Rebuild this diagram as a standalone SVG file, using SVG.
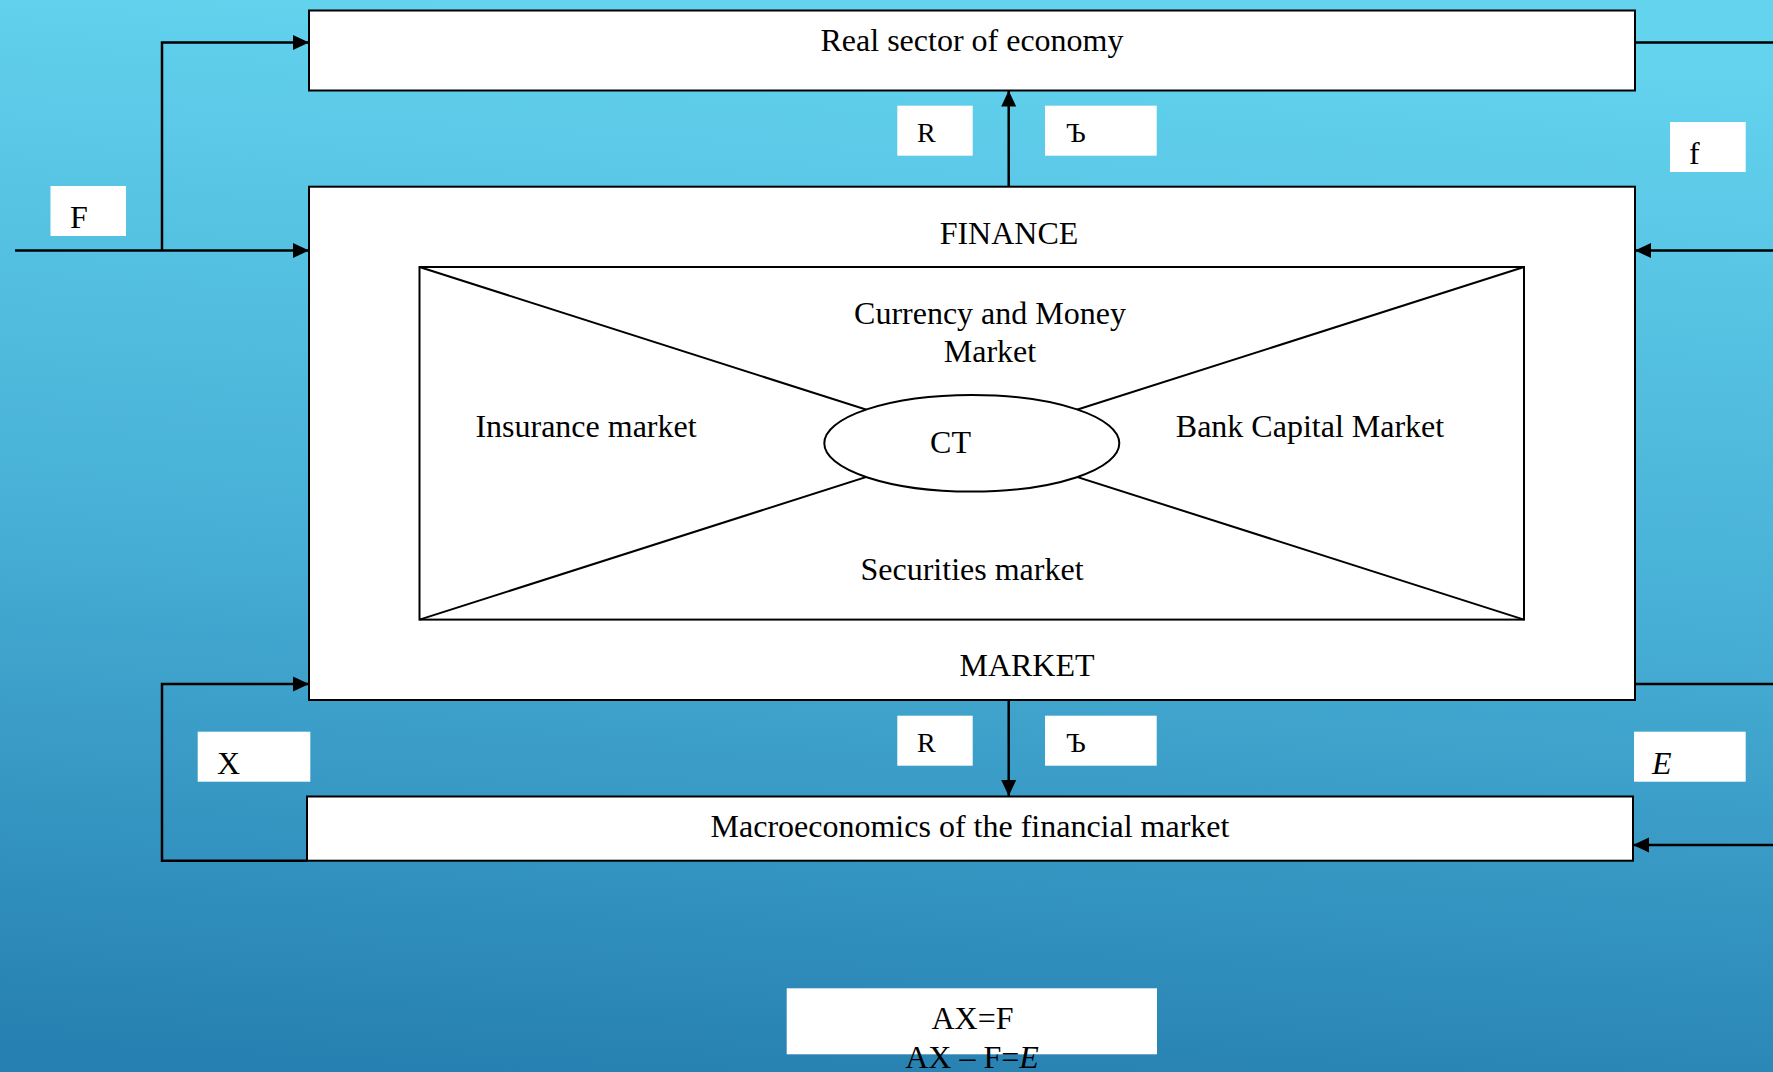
<svg xmlns="http://www.w3.org/2000/svg" width="1773" height="1072" viewBox="0 0 1773 1072">
<defs>
<linearGradient id="bg" x1="0.35" y1="0" x2="0.25" y2="1">
<stop offset="0" stop-color="#63d3ee"/>
<stop offset="0.5" stop-color="#48b0d6"/>
<stop offset="1" stop-color="#2680b1"/>
</linearGradient>
<marker id="arr" markerUnits="userSpaceOnUse" markerWidth="16" markerHeight="16" viewBox="0 0 16 16" refX="16" refY="8" orient="auto">
<path d="M0,0.5 L16,8 L0,15.5 Z" fill="#000"/>
</marker>
<style>
.box{fill:#fff;stroke:#000;stroke-width:2}
.lbl{fill:#fff;stroke:none}
.t{font-family:"Liberation Serif","Times New Roman",serif;font-size:32px;fill:#000}
.s{font-family:"Liberation Serif","Times New Roman",serif;font-size:28px;fill:#000}
.c{text-anchor:middle}
.con{fill:none;stroke:#000;stroke-width:2.5}
.thin{fill:none;stroke:#000;stroke-width:2}
</style>
</defs>
<rect x="0" y="0" width="1773" height="1072" fill="url(#bg)"/>

<g id="connectors">
<path class="con" d="M15,250.5 H309" marker-end="url(#arr)"/>
<path class="con" d="M162,250.5 V42.5 H309" marker-end="url(#arr)"/>
<path class="con" d="M1635,42.5 H1773"/>
<path class="con" d="M1773,250.5 H1635" marker-end="url(#arr)"/>
<path class="con" d="M1008.7,186.7 V90.5" marker-end="url(#arr)"/>
<path class="con" d="M1008.7,700 V796" marker-end="url(#arr)"/>
<path class="con" d="M307,860.7 H162 V684 H309" marker-end="url(#arr)"/>
<path class="con" d="M1635,684 H1773"/>
<path class="con" d="M1773,845 H1633" marker-end="url(#arr)"/>
</g>

<g id="real-sector">
<rect class="box" x="309" y="10.5" width="1326" height="80"/>
<text class="t c" x="972" y="51">Real sector of economy</text>
</g>

<g id="finance-market">
<rect class="box" x="309" y="186.7" width="1326" height="513.3"/>
<text class="t c" x="1009" y="244">FINANCE</text>
<text class="t c" x="1027" y="676">MARKET</text>
</g>

<g id="inner-markets">
<rect class="box" x="419.5" y="267" width="1104.5" height="352.6"/>
<line class="thin" x1="419.5" y1="267" x2="1524" y2="619.6"/>
<line class="thin" x1="1524" y1="267" x2="419.5" y2="619.6"/>
<text class="t c" x="990" y="324">Currency and Money</text>
<text class="t c" x="990" y="362">Market</text>
<text class="t c" x="586" y="436.5">Insurance market</text>
<text class="t c" x="1310" y="436.5">Bank Capital Market</text>
<text class="t c" x="972" y="580">Securities market</text>
</g>

<g id="ct">
<ellipse cx="971.8" cy="443.3" rx="147.5" ry="48.3" fill="#fff" stroke="#000" stroke-width="2"/>
<text class="t c" x="950.5" y="452.5">CT</text>
</g>

<g id="macro">
<rect class="box" x="307" y="796.5" width="1326" height="64.2"/>
<text class="t c" x="970" y="837">Macroeconomics of the financial market</text>
</g>

<g id="label-F">
<rect class="lbl" x="50.5" y="186" width="75.5" height="50"/>
<text class="t" x="70" y="228">F</text>
</g>
<g id="label-f">
<rect class="lbl" x="1670" y="122" width="75.7" height="50"/>
<text class="t" x="1689" y="164">f</text>
</g>
<g id="label-X">
<rect class="lbl" x="197.7" y="731.7" width="112.6" height="50"/>
<text class="t" x="217" y="774">X</text>
</g>
<g id="label-E">
<rect class="lbl" x="1634" y="731.7" width="111.7" height="50"/>
<text class="t" x="1652" y="774" font-style="italic">E</text>
</g>
<g id="label-R-top">
<rect class="lbl" x="897.3" y="105.7" width="75.4" height="50"/>
<text class="s" x="917" y="142">R</text>
</g>
<g id="label-hard-top">
<rect class="lbl" x="1045" y="105.7" width="111.7" height="50"/>
<text class="s" x="1066" y="142">Ъ</text>
</g>
<g id="label-R-bottom">
<rect class="lbl" x="897.3" y="715.7" width="75.4" height="50"/>
<text class="s" x="917" y="752">R</text>
</g>
<g id="label-hard-bottom">
<rect class="lbl" x="1045" y="715.7" width="111.7" height="50"/>
<text class="s" x="1066" y="752">Ъ</text>
</g>

<g id="formula">
<rect class="lbl" x="786.7" y="988.3" width="370.3" height="66"/>
<text class="t c" x="972.5" y="1029.3">AX=F</text>
<text class="t c" x="972" y="1068.3">AX – F=<tspan font-style="italic">E</tspan></text>
</g>
</svg>
